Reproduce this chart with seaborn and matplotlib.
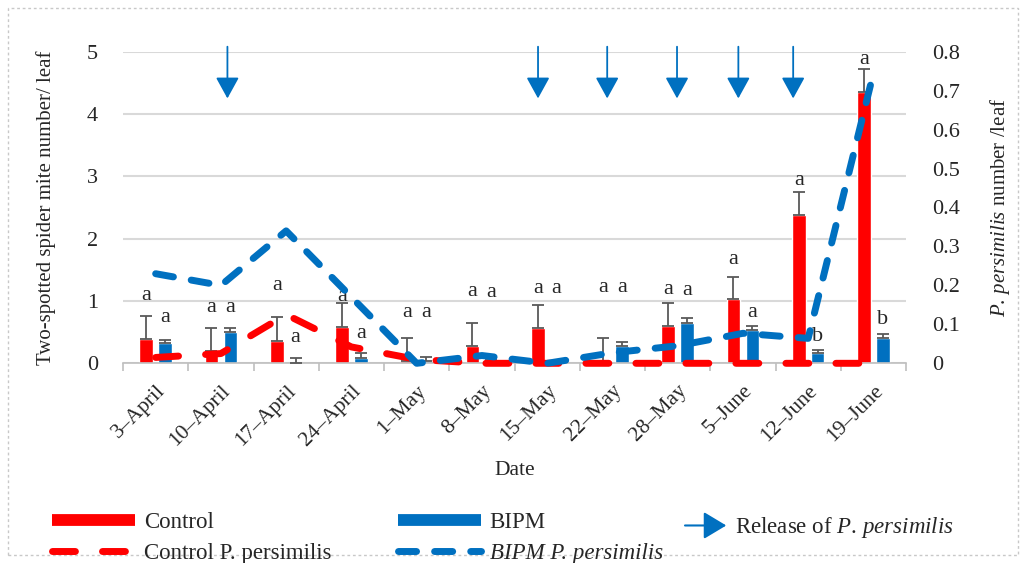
import numpy as np
import pandas as pd
import seaborn as sns
import matplotlib.pyplot as plt
from matplotlib.lines import Line2D
from matplotlib.patches import FancyArrowPatch, Rectangle
from matplotlib.legend_handler import HandlerBase

# ---- data ----
dates = ["3–April", "10–April", "17–April", "24–April", "1–May", "8–May",
         "15–May", "22–May", "28–May", "5–June", "12–June", "19–June"]
control_mites = [0.39, 0.19, 0.36, 0.59, 0.03, 0.27, 0.57, 0.04, 0.60, 1.03, 2.38, 4.36]
control_err = [0.37, 0.37, 0.38, 0.37, 0.37, 0.37, 0.37, 0.37, 0.37, 0.36, 0.37, 0.36]
bipm_mites = [0.32, 0.50, 0.01, 0.08, 0.04, 0.05, 0.00, 0.27, 0.65, 0.53, 0.16, 0.40]
bipm_err = [0.06, 0.07, 0.07, 0.08, 0.06, 0.05, 0.02, 0.07, 0.08, 0.07, 0.06, 0.07]
control_pp = [0.015, 0.025, 0.125, 0.042, 0.01, 0.0, 0.0, 0.0, 0.0, 0.0, 0.0, 0.0]
bipm_pp = [0.23, 0.20, 0.34, 0.17, 0.0, 0.02, 0.0, 0.027, 0.045, 0.077, 0.064, 0.745]
control_letters = ["a"] * 12
bipm_letters = ["a"] * 10 + ["b", "b"]
control_letter_y = [1.08, 0.89, 1.25, 1.07, 0.81, 1.15, 1.20, 1.21, 1.18, 1.66, 2.94, 4.88]
bipm_letter_y = [0.73, 0.90, 0.41, 0.48, 0.81, 1.13, 1.20, 1.21, 1.17, 0.82, 0.43, 0.71]
release_pos = [1.1, 5.86, 6.92, 7.99, 8.93, 9.77]

RED = "#FF0000"
BLUE = "#0070C0"

sns.set_style("white")
plt.rcParams["font.family"] = ["Liberation Serif", "DejaVu Serif"]
plt.rcParams["mathtext.fontset"] = "custom"
plt.rcParams["mathtext.rm"] = "Liberation Serif"
plt.rcParams["mathtext.it"] = "Liberation Serif:italic"

df = pd.DataFrame({
    "date": dates * 2,
    "mites": control_mites + bipm_mites,
    "group": ["Control"] * 12 + ["BIPM"] * 12,
})

fig = plt.figure(figsize=(10.26, 5.63), dpi=100)
ax = fig.add_axes([0.1199, 0.3547, 0.7632, 0.5535])

sns.barplot(data=df, x="date", y="mites", hue="group", palette=[RED, BLUE],
            width=0.58, gap=0.28, saturation=1, errorbar=None, legend=False, ax=ax)

# upper error bars + letters
bars = ax.patches[:24]
centers = [p.get_x() + p.get_width() / 2 for p in bars]
means = control_mites + bipm_mites
errs = control_err + bipm_err
ax.errorbar(centers, means, yerr=[np.zeros(24), errs], fmt="none",
            ecolor="#595959", elinewidth=1.3, capsize=4.5, capthick=1.3, zorder=3)
for cx, lab, ly in zip(centers, control_letters + bipm_letters, control_letter_y + bipm_letter_y):
    ax.text(cx, ly, lab, ha="center", va="center", fontsize=16)

ax.set_xlim(-0.5, 11.5)
ax.set_ylim(0, 5)
ax.set_yticks(range(6))
ax.yaxis.grid(True, color="#D9D9D9", lw=1.5)
ax.set_axisbelow(True)
for s in ["left", "right", "top"]:
    ax.spines[s].set_visible(False)
ax.spines["bottom"].set_color("#BFBFBF")
ax.spines["bottom"].set_linewidth(1.2)
ax.set_xticks(np.arange(-0.5, 12, 1), minor=True)
ax.tick_params(axis="x", which="minor", length=6, color="#BFBFBF", width=1.2, bottom=True)
ax.tick_params(axis="x", which="major", length=0, pad=13)
ax.tick_params(axis="y", length=0, pad=18, labelsize=16)
ax.set_xticks(range(12))
ax.set_xticklabels(dates, rotation=45, ha="right", rotation_mode="anchor", fontsize=15.5)
ax.set_xlabel("Date", fontsize=15.5, labelpad=8)
ax.set_ylabel("Two-spotted spider mite number/ leaf", fontsize=15, labelpad=22)

# release arrows
for rx in release_pos:
    ax.annotate("", xy=(rx, 4.25), xytext=(rx, 5.08), annotation_clip=False,
                arrowprops=dict(arrowstyle="-|>,head_length=1.0,head_width=0.55",
                                mutation_scale=13, color=BLUE, lw=1.3, shrinkA=0, shrinkB=0))

# predator lines on secondary axis
red_dash = (0, (3.3, 3.9))
blue_dash = (0, (2.6, 2.6))
ax2 = ax.twinx()
sns.lineplot(x=np.arange(12), y=control_pp, color=RED, ax=ax2, lw=5,
             linestyle=red_dash, dash_capstyle="round", clip_on=False)
sns.lineplot(x=np.arange(12), y=bipm_pp, color=BLUE, ax=ax2, lw=5,
             linestyle=blue_dash, dash_capstyle="round", clip_on=False)
ax2.set_ylim(0, 0.8)
ax2.set_yticks(np.arange(0, 0.81, 0.1))
ax2.set_yticklabels(["0"] + [f"{v:.1f}" for v in np.arange(0.1, 0.81, 0.1)])
ax2.tick_params(axis="y", length=0, pad=19, labelsize=16)
for s in ["left", "right", "top", "bottom"]:
    ax2.spines[s].set_visible(False)
ax2.set_ylabel(r"$\mathit{P.\,persimilis}$ number /leaf", fontsize=15, labelpad=20)
ax.set_xlim(-0.5, 11.5)


class ArrowHandler(HandlerBase):
    def create_artists(self, legend, orig_handle, xdescent, ydescent, width, height, fontsize, trans):
        y = height / 2 - ydescent
        arr = FancyArrowPatch((-xdescent, y), (width - xdescent, y),
                              arrowstyle="-|>,head_length=1.0,head_width=0.6",
                              mutation_scale=14, color=BLUE, lw=1.5,
                              shrinkA=0, shrinkB=0, transform=trans)
        return [arr]


h_ctrl = Line2D([], [], color=RED, lw=8.5, solid_capstyle="butt")
h_ctrl_pp = Line2D([], [], color=RED, lw=5, linestyle=red_dash, dash_capstyle="round")
h_bipm = Line2D([], [], color=BLUE, lw=8.5, solid_capstyle="butt")
h_bipm_pp = Line2D([], [], color=BLUE, lw=5, linestyle=blue_dash, dash_capstyle="round")
h_rel = object()

leg_kw = dict(frameon=False, fontsize=16.5, borderpad=0, borderaxespad=0,
              labelspacing=0.42, handletextpad=0.4, loc="center left")
fig.legend([h_ctrl, h_ctrl_pp], ["Control", "Control P. persimilis"],
           handlelength=3.6, bbox_to_anchor=(52 / 1026, 1 - 538 / 563), **leg_kw)
leg2 = fig.legend([h_bipm, h_bipm_pp], ["BIPM", "BIPM P. persimilis"],
                  handlelength=3.6, bbox_to_anchor=(398 / 1026, 1 - 538 / 563), **leg_kw)
leg2.get_texts()[1].set_style("italic")
fig.legend([h_rel], [r"Release of $\mathit{P.\,persimilis}$"],
           handler_map={object: ArrowHandler()}, handlelength=1.8,
           bbox_to_anchor=(685 / 1026, 1 - 528 / 563), **leg_kw)

fig.patches.append(Rectangle((0.008, 0.014), 0.984, 0.972, transform=fig.transFigure,
                             fill=False, ec="#C8C8C8", lw=1, ls=(0, (2, 2))))

fig.savefig("out.png", dpi=100)
